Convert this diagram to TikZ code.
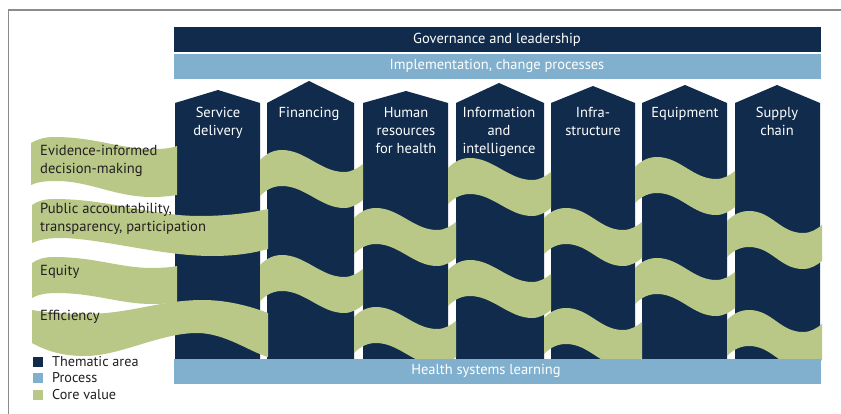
\documentclass[tikz,border=0pt]{standalone}
\usepackage{fontspec}
\setmainfont{PT Sans}
\definecolor{navy}{RGB}{16,43,75}
\definecolor{procblue}{RGB}{128,176,206}
\definecolor{coregreen}{RGB}{185,200,134}
\definecolor{framegray}{RGB}{140,140,140}
\definecolor{inktext}{RGB}{35,31,32}
\newcommand\frontseg[3]{%
  \fill[coregreen] (#1,#3) .. controls ({#1+7},{#3-7}) and ({#1+14},{#3-10}) .. ({#1+22},{#3-10})
     .. controls ({#1+45},{#3-10}) and ({#2-42},{#3+12}) .. ({#2-19},{#3+12})
     .. controls ({#2-11},{#3+12}) and ({#2-5},{#3+8}) .. (#2,{#3+4})
   -- (#2,{#3+40}) .. controls ({#2-5},{#3+44}) and ({#2-11},{#3+48}) .. ({#2-19},{#3+48})
     .. controls ({#2-42},{#3+48}) and ({#1+45},{#3+26}) .. ({#1+22},{#3+26})
     .. controls ({#1+14},{#3+26}) and ({#1+7},{#3+29}) .. (#1,{#3+36}) -- cycle;}
\newcommand\pillarshape[5]{% xl xr xc peak name
  \fill[navy] (#1,359) -- (#1,103) -- (#3,#4) -- (#2,103) -- (#2,359) -- cycle;
  \coordinate (#5) at (#3,114);}
\tikzset{
  bartext/.style={text=white,font=\fontsize{14.5}{16}\selectfont},
  piltext/.style={text=white,font=\fontsize{14.5}{18}\selectfont,align=center,anchor=north,inner sep=0pt},
  valtext/.style={text=inktext,font=\fontsize{14.6}{18}\selectfont,align=left,anchor=west,inner sep=0pt},
  legtext/.style={text=inktext,font=\fontsize{14.2}{15}\selectfont,anchor=west,inner sep=0pt},
  legbox/.style={minimum size=10pt,inner sep=0pt},
}
\begin{document}
\begin{tikzpicture}[x=1pt,y=-1pt]
\useasboundingbox (0,0) rectangle (841,414);
\fill[white] (0,0) rectangle (841,414);
\draw[framegray,line width=1.6pt] (8.5,414) -- (8.5,10) -- (841,10);
% top bars
\fill[navy] (174,27) rectangle (821,52);
\node[bartext] (gov) at (497,40) {Governance and leadership};
\fill[procblue] (174,54) rectangle (821,79);
\node[bartext] (impl) at (497,66) {Implementation, change processes};
% pillars
\pillarshape{175}{260}{218}{90}{p1}
\pillarshape{267}{354}{309}{81}{p2}
\pillarshape{363}{448}{406}{91}{p3}
\pillarshape{456}{544}{499}{83}{p4}
\pillarshape{551}{635}{593}{86}{p5}
\pillarshape{642}{727}{685}{85}{p6}
\pillarshape{735}{820}{777}{85}{p7}
% left ribbon parts
\fill[coregreen] (31,143) .. controls (38,139) and (45,137) .. (54,137) .. controls (95,137) and (120,149) .. (152,149) .. controls (165,149) and (172,148) .. (177,146)
  -- (177,195) .. controls (170,196) and (163,197) .. (152,197) .. controls (115,197) and (90,181) .. (56,181) .. controls (45,181) and (37,182) .. (31,185) -- cycle;
\fill[coregreen] (32,205) .. controls (38,201) and (44,199) .. (54,199) .. controls (110,199) and (150,216) .. (200,216) .. controls (230,216) and (255,212) .. (268,209)
  -- (268,249) .. controls (250,254) and (232,256) .. (212,256) .. controls (160,256) and (100,238) .. (60,238) .. controls (48,238) and (38,240) .. (32,243) -- cycle;
\fill[coregreen] (32,263) .. controls (38,259) and (44,257) .. (54,257) .. controls (95,257) and (120,268) .. (152,268) .. controls (165,268) and (172,267) .. (177,266)
  -- (177,302) .. controls (172,303) and (165,304) .. (152,304) .. controls (120,304) and (95,293) .. (56,293) .. controls (45,293) and (37,295) .. (32,298) -- cycle;
\fill[coregreen] (32,310) .. controls (50,313) and (65,314) .. (85,314) .. controls (130,314) and (160,300) .. (203,300) .. controls (230,300) and (255,308) .. (268,313)
  -- (268,357) .. controls (250,352) and (225,333) .. (197,333) .. controls (160,333) and (120,356) .. (85,356) .. controls (60,356) and (45,350) .. (32,343) -- cycle;
% front segments
\frontseg{260}{363}{160}
\frontseg{448}{551}{168}
\frontseg{635}{735}{167}
\frontseg{354}{456}{218}
\frontseg{544}{642}{218}
\frontseg{727}{822}{221}
\frontseg{260}{363}{265}
\frontseg{448}{551}{270}
\frontseg{635}{735}{268}
\frontseg{354}{456}{317}
\frontseg{544}{642}{318}
\frontseg{727}{822}{320}
% bottom bar
\fill[procblue] (174,359) rectangle (821,384);
\node[bartext] (learn) at (486,371) {Health systems learning};
% pillar texts
\node[piltext] (t1) at ([yshift=7pt]p1) {Service\\delivery};
\node[piltext] (t2) at ([yshift=7pt]p2) {Financing};
\node[piltext] (t3) at ([yshift=7pt]p3) {Human\\resources\\for health};
\node[piltext] (t4) at ([yshift=7pt]p4) {Information\\and\\intelligence};
\node[piltext] (t5) at ([yshift=7pt]p5) {Infra-\\structure};
\node[piltext] (t6) at ([yshift=7pt]p6) {Equipment};
\node[piltext] (t7) at ([yshift=7pt]p7) {Supply\\chain};
% core value labels
\node[valtext] (v1) at (40,161) {Evidence-informed\\decision-making};
\node[valtext] (v2) at (40,219) {Public accountability,\\transparency, participation};
\node[valtext] (v3) at (40,272) {Equity};
\node[valtext] (v4) at (40,317) {Efficiency};
% legend
\node[legbox,fill=navy] (k1) at (38,362) {};
\node[legtext] (l1) at (52,362) {Thematic area};
\node[legbox,fill=procblue] (k2) at (38,378) {};
\node[legtext] (l2) at (52,378) {Process};
\node[legbox,fill=coregreen] (k3) at (38,395) {};
\node[legtext] (l3) at (52,395) {Core value};
\end{tikzpicture}
\end{document}
